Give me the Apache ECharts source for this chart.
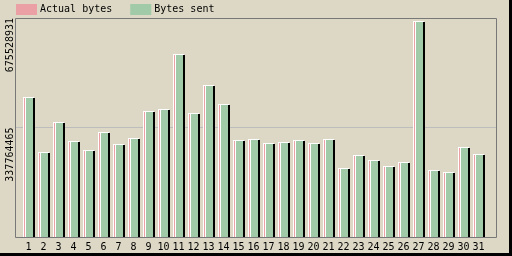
<!DOCTYPE html>
<html>
<head>
<meta charset="utf-8">
<script src="https://cdn.jsdelivr.net/npm/echarts@6/dist/echarts.min.js"></script>
<style>html,body{margin:0;padding:0;background:#dcd8c5;}#c{width:512px;height:256px;}</style>
</head>
<body>
<div id="c"></div>
<script>
const days = ['1','2','3','4','5','6','7','8','9','10','11','12','13','14','15','16','17','18','19','20','21','22','23','24','25','26','27','28','29','30','31'];
const bytesSent = [430900000,261300000,353800000,295200000,267400000,324800000,285900000,306300000,387700000,395800000,565400000,381600000,467900000,409300000,298300000,301400000,289000000,292100000,298300000,289000000,301400000,211900000,252000000,236600000,219000000,230400000,667800000,205700000,199600000,276700000,255100000];
const actualBytes = [430900000,261300000,353800000,295200000,267400000,324800000,285900000,306300000,387700000,395800000,565400000,381600000,467900000,409300000,298300000,301400000,289000000,292100000,298300000,289000000,301400000,211900000,252000000,236600000,219000000,230400000,667800000,205700000,199600000,276700000,255100000];
const yMax = 675528931;
const yTickLabels = ['337764465','675528931'];

const PINK = '#eaa0a4', GREEN = '#a0caa8', MONO = 'DejaVu Sans Mono';
const chart = echarts.init(document.getElementById('c'), null, {renderer:'canvas'});

function pinkItem(params, api){
  const i = api.value(0), v = api.value(1);
  const p = api.coord([i, v]), b = api.coord([i, 0]);
  const L = Math.round(p[0] - 5.5), T = Math.round(p[1]), B = Math.round(b[1]);
  return {type:'group', children:[
    {type:'rect', shape:{x:L, y:T, width:3, height:B-T}, style:{fill:'#ffffff'}},
    {type:'rect', shape:{x:L+1, y:T+1, width:2, height:B-T-1}, style:{fill:PINK}}
  ]};
}
function greenItem(params, api){
  const i = api.value(0), v = api.value(1);
  const p = api.coord([i, v]), b = api.coord([i, 0]);
  const L = Math.round(p[0] - 5.5), T = Math.round(p[1]), B = Math.round(b[1]);
  return {type:'group', children:[
    {type:'rect', shape:{x:L+2, y:T, width:9, height:B-T}, style:{fill:'#ffffff'}},
    {type:'rect', shape:{x:L+3, y:T+1, width:7, height:B-T-1}, style:{fill:GREEN}},
    {type:'rect', shape:{x:L+10, y:T+1, width:2, height:B-T-1}, style:{fill:'#000000'}}
  ]};
}

chart.setOption({
  animation:false,
  backgroundColor:'#dcd8c5',
  textStyle:{fontFamily:MONO},
  legend:{
    left:16, top:4, padding:0, itemGap:18, itemWidth:21, itemHeight:11, icon:'rect',
    textStyle:{fontFamily:MONO, fontSize:10, color:'#000', padding:[0,0,0,-2]},
    data:[{name:'Actual bytes', itemStyle:{color:PINK}}, {name:'Bytes sent', itemStyle:{color:GREEN}}]
  },
  grid:[
    {left:16, top:18, width:480, height:219},
    {left:21, top:18, width:465, height:219}
  ],
  xAxis:[
    {gridIndex:0, type:'value', show:false, min:0, max:1},
    {gridIndex:1, type:'category', data:days, boundaryGap:true,
     axisLine:{show:false}, axisTick:{show:false},
     axisLabel:{interval:0, margin:5, fontFamily:MONO, fontSize:10, color:'#000'}}
  ],
  yAxis:[
    {gridIndex:0, type:'value', min:0, max:yMax, interval:yMax/2,
     axisLine:{show:false}, axisTick:{show:false},
     splitLine:{show:true, lineStyle:{color:'#bdbdbd', width:1}},
     axisLabel:{rotate:90, margin:1, align:'right', verticalAlign:'bottom', fontFamily:MONO, fontSize:10, color:'#000',
       formatter:function(v, idx){ return idx===1 ? yTickLabels[0] : (idx===2 ? yTickLabels[1] : ''); }}},
    {gridIndex:1, type:'value', min:0, max:yMax, show:false, splitLine:{show:false}}
  ],
  graphic:[
    {type:'rect', z:10, shape:{x:15.5, y:18.5, width:481, height:219}, style:{fill:null, stroke:'#787878', lineWidth:1}},
    {type:'rect', z:10, shape:{x:509, y:0, width:3, height:256}, style:{fill:'#000'}},
    {type:'rect', z:10, shape:{x:0, y:253, width:512, height:3}, style:{fill:'#000'}}
  ],
  series:[
    {name:'Actual bytes', type:'custom', xAxisIndex:1, yAxisIndex:1, itemStyle:{color:PINK},
     renderItem:pinkItem, encode:{x:0, y:1}, data:actualBytes.map((v,i)=>[i,v])},
    {name:'Bytes sent', type:'custom', xAxisIndex:1, yAxisIndex:1, itemStyle:{color:GREEN},
     renderItem:greenItem, encode:{x:0, y:1}, data:bytesSent.map((v,i)=>[i,v])}
  ]
});
</script>
</body>
</html>
